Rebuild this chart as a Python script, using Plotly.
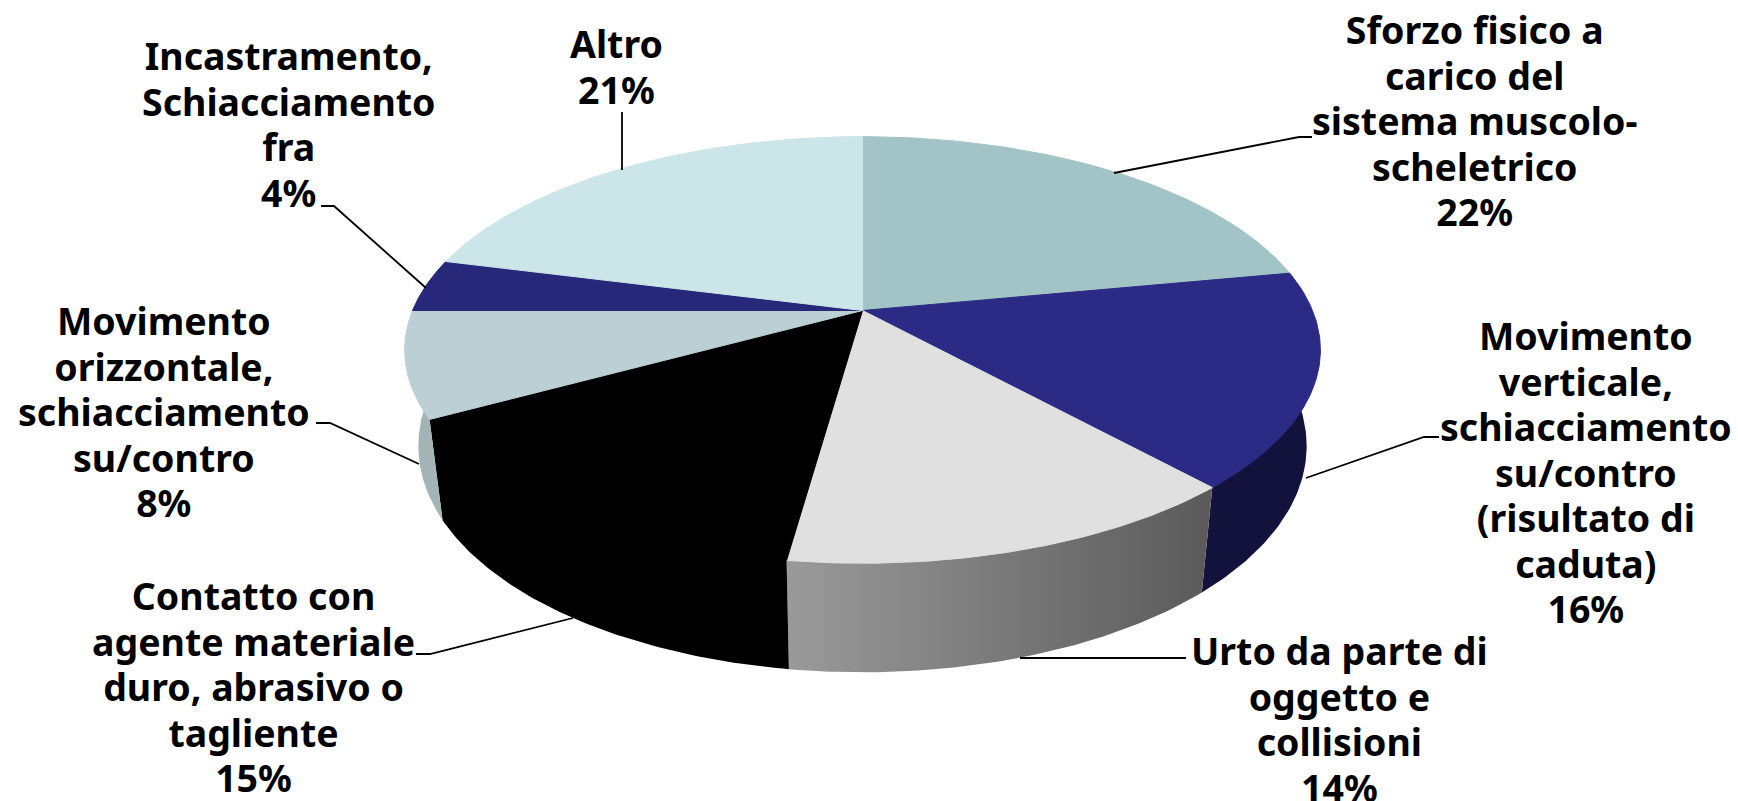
import numpy as np
import plotly.graph_objects as go

categories = [
    ["Sforzo fisico a", "carico del", "sistema muscolo-", "scheletrico"],
    ["Movimento", "verticale,", "schiacciamento", "su/contro", "(risultato di", "caduta)"],
    ["Urto da parte di", "oggetto e", "collisioni"],
    ["Contatto con", "agente materiale", "duro, abrasivo o", "tagliente"],
    ["Movimento", "orizzontale,", "schiacciamento", "su/contro"],
    ["Incastramento,", "Schiacciamento", "fra"],
    ["Altro"],
]
values = [22.0, 16.3, 13.9, 14.8, 8.0, 4.0, 21.0]
top_colors = ["#A3C4C6", "#2B2B85", "#E0E0E0", "#000000", "#BCCFD4", "#28287A", "#CBE5E9"]
side_colors = [
    ["#7F9A9C", "#7F9A9C"], ["#12123C", "#12123C"], ["#9A9A9A", "#5A5A5A"],
    ["#000000", "#000000"], ["#A3B4B6", "#A3B4B6"], ["#16164A", "#16164A"], ["#A0B8BC", "#A0B8BC"],
]
label_pos = [(1474, 120), (1586, 472), (1339, 719), (253, 686), (164, 411), (288, 124), (616, 66)]
leaders = [
    [(1114, 173), (1299, 137), (1312, 137)],
    [(1306, 478), (1424, 437), (1439, 437)],
    [(1020, 658), (1186, 658)],
    [(573, 618), (430, 654), (416, 654)],
    [(419, 464), (330, 423), (316, 423)],
    [(426, 288), (334, 206), (321, 206)],
    [(622, 170), (622, 112)],
]

CX, CY, RX, RY, K = 862.5, 310.5, 450.0, 206.0, 0.185
FONT = "Noto Sans"
BASE_SIZE = 35      # sets the line pitch (1.3 em)
GLYPH_SIZE = 37.5   # sets the glyph size


def project(theta):
    u, v = np.sin(theta), -np.cos(theta)
    d = 1 - K * v
    return CX + RX * u / d, CY + RY * v / d, v


def rim(theta):
    x, y, v = project(theta)
    return CX + (x - CX) * 0.97, y + 93 + 16 * v


fig = go.Figure()
shares = np.array(values, dtype=float) / sum(values)
edges = np.concatenate([[0], np.cumsum(shares)]) * 2 * np.pi

# side walls (a strip of each reaches under the top faces)
for i in range(len(values)):
    t = np.linspace(edges[i], edges[i + 1], 80)
    x, y, _ = project(t)
    xb, yb = rim(t)
    xi = CX + (x - CX) * 0.96
    yi = CY + (y - CY) * 0.96
    style = dict(fillcolor=side_colors[i][0])
    if side_colors[i][0] != side_colors[i][1]:
        style = dict(fillgradient=dict(type="horizontal",
                                       colorscale=[[0, side_colors[i][0]], [1, side_colors[i][1]]]))
    fig.add_trace(go.Scatter(
        x=np.concatenate([xb[:1], x[:1], xi, x[-1:], xb[::-1]]),
        y=np.concatenate([yb[:1], y[:1], yi, y[-1:], yb[::-1]]),
        mode="lines", fill="toself", line=dict(width=0),
        hoverinfo="skip", showlegend=False, **style))

# top faces
for i in range(len(values)):
    t = np.linspace(edges[i], edges[i + 1], 80)
    x, y, _ = project(t)
    fig.add_trace(go.Scatter(
        x=np.concatenate([[CX], x, [CX]]), y=np.concatenate([[CY], y, [CY]]),
        mode="lines", fill="toself", fillcolor=top_colors[i],
        line=dict(width=1, color=top_colors[i]),
        name=" ".join(categories[i]), showlegend=False))

# leader lines
for pts in leaders:
    fig.add_trace(go.Scatter(x=[p[0] for p in pts], y=[p[1] for p in pts], mode="lines",
                             line=dict(color="black", width=1.8), hoverinfo="skip", showlegend=False))

for cat, val, (lx, ly) in zip(categories, values, label_pos):
    lines = cat + [f"{round(val)}%"]
    text = "<br>".join(f'<span style="font-size:{GLYPH_SIZE}px">{line}</span>' for line in lines)
    fig.add_annotation(x=lx, y=ly, text=text, showarrow=False,
                       xanchor="center", yanchor="middle", align="center",
                       font=dict(family=FONT, size=BASE_SIZE, color="black", weight="bold"))

fig.update_xaxes(range=[0, 1738], visible=False, fixedrange=True)
fig.update_yaxes(range=[801, 0], visible=False, fixedrange=True)
fig.update_layout(width=1738, height=801, margin=dict(l=0, r=0, t=0, b=0),
                  paper_bgcolor="white", plot_bgcolor="white", showlegend=False)
fig.write_html("out.html", config={"displayModeBar": False},
               post_script="document.body.style.margin='0';")
